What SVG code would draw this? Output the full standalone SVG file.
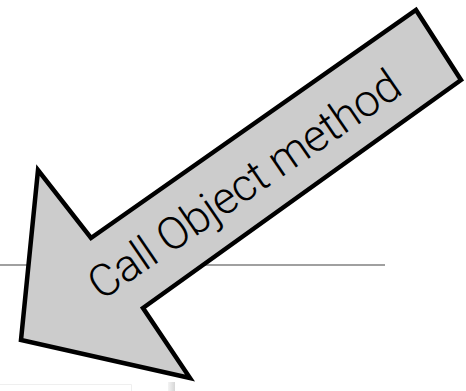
<svg xmlns="http://www.w3.org/2000/svg" width="466" height="391" viewBox="0 0 466 391">
<style>
.lbl{font-family:Roboto,"Liberation Sans",Arial,sans-serif;font-weight:300;font-size:45px;fill:#000}
</style>
<defs>
<linearGradient id="bar" x1="0" y1="0" x2="1" y2="0">
<stop offset="0" stop-color="#f4f4f4"/>
<stop offset="1" stop-color="#d6d6d6"/>
</linearGradient>
</defs>
<rect width="466" height="391" fill="#fff"/>
<g id="background">
<path d="M0 384.5H131.5V391" fill="none" stroke="#efefef" stroke-width="1"/>
<rect x="168" y="382" width="7" height="9" fill="url(#bar)"/>
</g>
<g id="connectors">
<line x1="0" y1="265" x2="385" y2="265" stroke="#a0a0a0" stroke-width="2"/>
</g>
<g id="arrow">
<polygon points="91,238 416,10 461,80 143,308 190,378 21,340 38,170" fill="#cccccc" stroke="#000" stroke-width="4.5" stroke-linejoin="miter" stroke-miterlimit="10"/>
<text class="lbl" x="253" y="197" text-anchor="middle" textLength="368" lengthAdjust="spacing" transform="rotate(-34.5 253 197)">Call Object method</text>
</g>
</svg>
